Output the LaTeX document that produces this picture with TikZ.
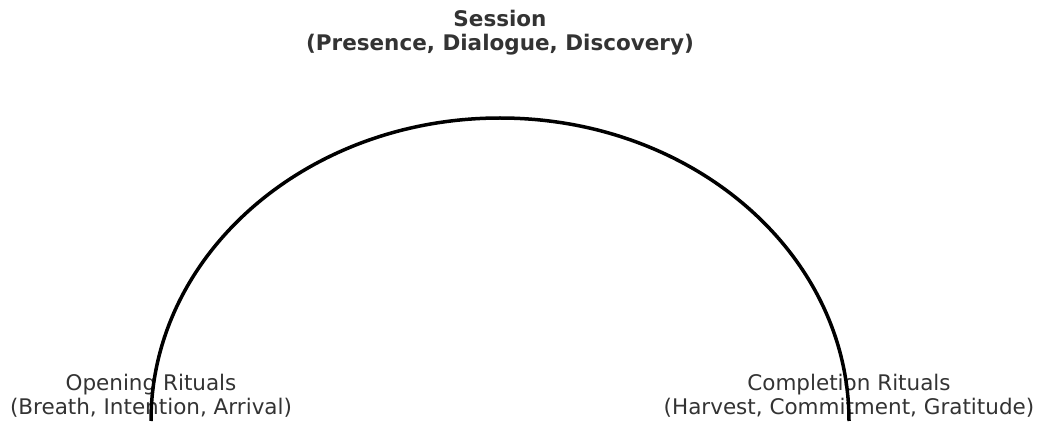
\documentclass[tikz,border=0pt]{standalone}
\usepackage{fontspec}
\setmainfont{DejaVu Sans}
\begin{document}
\begin{tikzpicture}[x=1pt,y=-1pt,
  lbl/.style={inner sep=0pt, align=center, text=black!80, font={\fontsize{21.5}{24}\selectfont}},
  ttl/.style={lbl, font={\bfseries\fontsize{21.5}{24}\selectfont}},
  arcline/.style={line width=3.5pt, black}]
\useasboundingbox (0,0) rectangle (1042,422);
\node[ttl, anchor=north] (title) at (500,10) {Session\\(Presence, Dialogue, Discovery)};
\node[lbl, anchor=north] (open) at (151,374) {Opening Rituals\\(Breath, Intention, Arrival)};
\node[lbl, anchor=north] (close) at (849,374) {Completion Rituals\\(Harvest, Commitment, Gratitude)};
\coordinate (L) at (151,421);
\coordinate (R) at (849,421);
\draw[arcline] (L) arc[start angle=180, end angle=0, x radius=349pt, y radius=303pt];
\end{tikzpicture}
\end{document}
